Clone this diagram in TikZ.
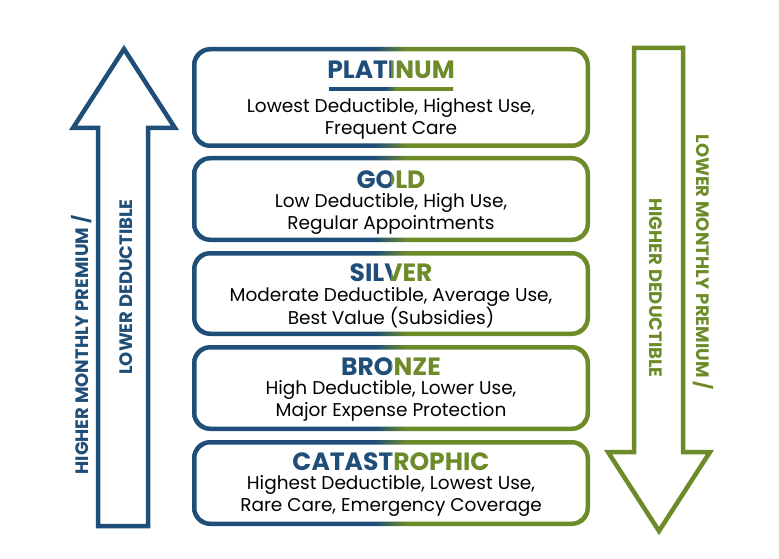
\documentclass[tikz,border=0pt]{standalone}
\usepackage{fontspec}
\setmainfont{Poppins}
\definecolor{cblue}{HTML}{1F4E79}
\definecolor{cgreen}{HTML}{6E8B2A}
\pgfdeclarehorizontalshading{bg}{100bp}{color(0bp)=(cblue); color(48bp)=(cblue); color(52bp)=(cgreen); color(100bp)=(cgreen)}
\tikzset{
  bodytxt/.style={font=\fontsize{18.5}{22}\selectfont, text=black, align=center, inner sep=0pt},
  titletxt/.style={font=\fontsize{25}{28}\selectfont\bfseries, inner sep=0pt},
  arrtxt/.style={font=\fontsize{18}{20}\selectfont\bfseries, inner sep=0pt},
}
\newcommand{\tierbox}[7]{% name, top, bottom, title y, title, body, body offset
  \shade[shading=bg, rounded corners=18pt] (192,#2) rectangle (590,#3);
  \fill[white, rounded corners=14pt] (196.5,#2+4.5) rectangle (585.5,#3-4.5);
  \coordinate (#1) at (391,{(#2+#3)/2});
  \begin{scope}\clip (0,0) rectangle (391,559);
    \node[titletxt, text=cblue] (#1t) at (391,#4) {#5};
  \end{scope}
  \begin{scope}\clip (391,0) rectangle (779,559);
    \node[titletxt, text=cgreen] (#1tg) at (391,#4) {#5};
  \end{scope}
  \node[bodytxt] (#1b) at (391,{#4+#7}) {#6};
}
\begin{document}
\begin{tikzpicture}[x=1pt,y=-1pt]
\useasboundingbox (0,0) rectangle (779,559);
\fill[white] (0,0) rectangle (779,559);
% left arrow
\draw[cblue, line width=4.5pt, line join=miter] (124,49) -- (175,128) -- (148,128) -- (148,526) -- (98,526) -- (98,128) -- (73,128) -- cycle;
\node[arrtxt, text=cblue, rotate=90] (l1) at (82,345) {HIGHER MONTHLY PREMIUM /};
\node[arrtxt, text=cblue, rotate=90] (l2) at (126,287) {LOWER DEDUCTIBLE};
% right arrow
\draw[cgreen, line width=4.5pt, line join=miter] (634,48) -- (683,48) -- (683,452) -- (710,452) -- (659,531) -- (608,452) -- (634,452) -- cycle;
\node[arrtxt, text=cgreen, rotate=-90] (r1) at (703,262) {LOWER MONTHLY PREMIUM /};
\node[arrtxt, text=cgreen, rotate=-90] (r2) at (656,288) {HIGHER DEDUCTIBLE};
% boxes
\tierbox{plat}{47}{148}{70}{PLATINUM}{Lowest Deductible, Highest Use,\\Frequent Care}{49}
\shade[shading=bg] (329,87.5) rectangle (453,90.5);
\tierbox{gold}{156}{242}{180}{GOLD}{Low Deductible, High Use,\\Regular Appointments}{34}
\tierbox{silv}{251}{336}{273}{SILVER}{Moderate Deductible, Average Use,\\Best Value (Subsidies)}{35}
\tierbox{bron}{345}{431}{367}{BRONZE}{High Deductible, Lower Use,\\Major Expense Protection}{34}
\tierbox{cata}{440}{526}{462}{CATASTROPHIC}{Highest Deductible, Lowest Use,\\Rare Care, Emergency Coverage}{34}
\end{tikzpicture}
\end{document}
